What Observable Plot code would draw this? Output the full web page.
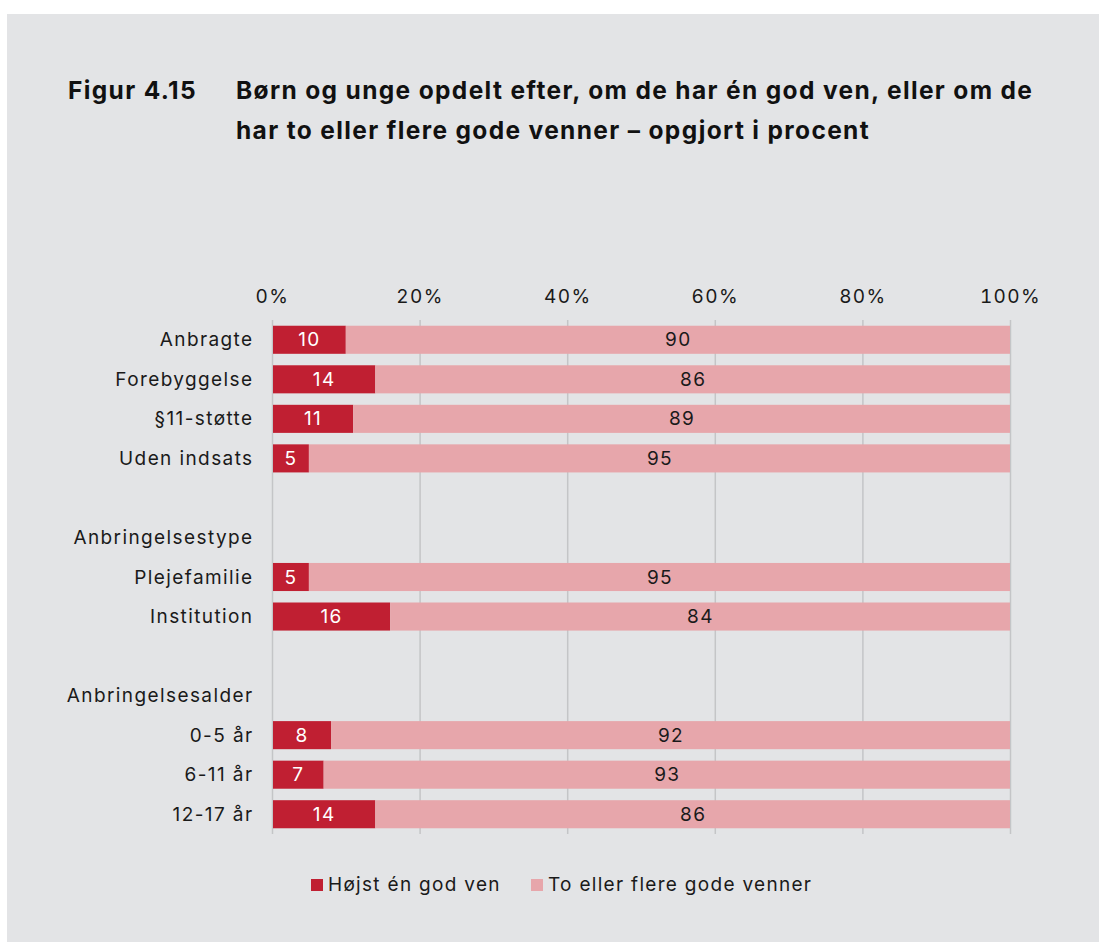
<!DOCTYPE html>
<html>
<head>
<meta charset="utf-8">
<script src="https://cdn.jsdelivr.net/npm/d3@7"></script>
<script src="https://cdn.jsdelivr.net/npm/@observablehq/plot@0.6"></script>
<style>
  html, body { margin: 0; padding: 0; background: #ffffff; }
  body { width: 1099px; height: 942px; position: relative; overflow: hidden; font-family: Inter, "Noto Sans", sans-serif; }
  #panel { position: absolute; left: 7px; top: 14px; width: 1092px; height: 928px; background: #e3e4e6; }
  .title { position: absolute; font-weight: 700; font-size: 24.5px; letter-spacing: 1.35px; color: #111; line-height: 40px; }
  #fig { left: 61px; top: 56px; }
  #ttl { left: 229px; top: 56px; white-space: nowrap; }
  #chart { position: absolute; left: 0; top: 246px; }
  #legend { position: absolute; top: 859px; left: 0; width: 1092px; font-size: 19px; letter-spacing: 1.3px; color: #1a1a1a; }
  .item { position: absolute; display: flex; align-items: center; white-space: nowrap; }
  .sw { width: 12px; height: 12px; margin-right: 5px; }
</style>
</head>
<body>
<div id="panel">
  <div class="title" id="fig">Figur 4.15</div>
  <div class="title" id="ttl">Børn og unge opdelt efter, om de har én god ven, eller om de<br>har to eller flere gode venner – opgjort i procent</div>
  <div id="chart"></div>
  <div id="legend"></div>
</div>
<script>
// Rows (ids keep blank and header rows unique); labels shown on the axis
const rowIds = ["Anbragte", "Forebyggelse", "§11-støtte", "Uden indsats", "blank1", "Anbringelsestype", "Plejefamilie", "Institution", "blank2", "Anbringelsesalder", "0-5 år", "6-11 år", "12-17 år"];
const rowLabels = ["Anbragte", "Forebyggelse", "§11-støtte", "Uden indsats", "", "Anbringelsestype", "Plejefamilie", "Institution", "", "Anbringelsesalder", "0-5 år", "6-11 år", "12-17 år"];
// Categories with bars and their values (percent)
const categories = ["Anbragte", "Forebyggelse", "§11-støtte", "Uden indsats", "Plejefamilie", "Institution", "0-5 år", "6-11 år", "12-17 år"];
const hoejstEn = [10, 14, 11, 5, 5, 16, 8, 7, 14];
const toEllerFlere = [90, 86, 89, 95, 95, 84, 92, 93, 86];
const seriesNames = ["Højst én god ven", "To eller flere gode venner"];
const seriesColors = ["#c01f32", "#e7a6ab"];
const xTicks = [0, 20, 40, 60, 80, 100];

const rows = categories.map((c, i) => ({cat: c, a: hoejstEn[i], b: toEllerFlere[i]}));
const labelOf = new Map(rowIds.map((id, i) => [id, rowLabels[i]]));

const chart = Plot.plot({
  width: 1092,
  height: 600,
  marginLeft: 265,
  marginRight: 89,
  marginTop: 60,
  marginBottom: 26,
  style: {fontFamily: "Inter, 'Noto Sans', sans-serif", fontSize: "19px", letterSpacing: "1.4px", color: "#1a1a1a", background: "transparent", overflow: "visible"},
  x: {domain: [0, 100], axis: null, label: null},
  y: {domain: rowIds, axis: null, label: null, paddingInner: 0.29, paddingOuter: 0.145, round: false},
  marks: [
    Plot.gridX(xTicks, {stroke: "#c4c5c7", strokeOpacity: 1, strokeWidth: 1.5}),
    Plot.axisX(xTicks, {anchor: "top", label: null, tickSize: 0, tickPadding: 18, tickFormat: d => d + "%", fontSize: 19, fill: "#1a1a1a"}),
    Plot.axisY(rowIds, {anchor: "left", label: null, tickSize: 0, tickPadding: 19, tickFormat: d => labelOf.get(d), fontSize: 19, fill: "#1a1a1a"}),
    Plot.barX(rows, {y: "cat", x1: 0, x2: "a", fill: seriesColors[0], insetLeft: 1}),
    Plot.barX(rows, {y: "cat", x1: "a", x2: d => d.a + d.b, fill: seriesColors[1]}),
    Plot.text(rows, {y: "cat", x: d => d.a / 2, text: d => String(d.a), fill: "white", fontSize: 19}),
    Plot.text(rows, {y: "cat", x: d => d.a + d.b / 2, text: d => String(d.b), fill: "#1a1a1a", fontSize: 19})
  ]
});
document.getElementById("chart").appendChild(chart);

const legend = document.getElementById("legend");
const legendX = [304, 524];
seriesNames.forEach((name, i) => {
  const it = document.createElement("div");
  it.className = "item";
  it.style.left = legendX[i] + "px";
  it.style.top = "0px";
  it.innerHTML = `<span class="sw" style="background:${seriesColors[i]}"></span><span>${name}</span>`;
  legend.appendChild(it);
});
</script>
</body>
</html>
